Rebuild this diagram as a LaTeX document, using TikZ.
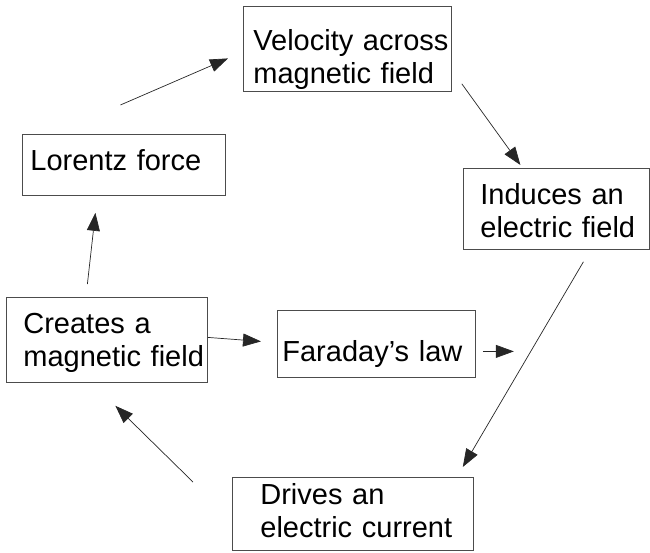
\documentclass[tikz,border=0pt]{standalone}
\usepackage{fontspec}
\setmainfont{Liberation Sans}
\usetikzlibrary{arrows.meta}
\hyphenpenalty=10000
\begin{document}
\begin{tikzpicture}[x=1pt,y=-1pt,
    font=\fontsize{29}{33}\selectfont,
    box/.style={draw=black!70, line width=0.8pt, text=black,
          anchor=north west, align=left, inner ysep=0pt},
    arr/.style={-{Triangle[length=18pt,width=13pt]},
          line width=0.7pt, black!85}]
    \useasboundingbox (0,0) rectangle (650,552);
    \node[box, text width=188pt, inner xsep=10pt,
          text height=44pt, text depth=41pt] (vel) at (243,6)
          {Velocity~across\\magnetic~field};
    \node[box, text width=187pt, inner xsep=8pt,
          text height=36pt, text depth=25pt] (lor) at (22,134)
          {Lorentz~force};
    \node[box, text width=152pt, inner xsep=17pt,
          text height=36pt, text depth=45pt] (ind) at (463,168)
          {Induces~an\\electric~field};
    \node[box, text width=167pt, inner xsep=17pt,
          text height=36pt, text depth=49pt] (cre) at (6,297)
          {Creates~a\\magnetic~field};
    \node[box, text width=188pt, inner xsep=5pt,
          text height=51pt, text depth=16pt] (far) at (277,310)
          {Faraday’s~law};
    \node[box, text width=185pt, inner xsep=28pt,
          text height=27pt, text depth=46pt] (drv) at (232,477)
          {Drives~an\\electric~current};
    \coordinate (out) at ([shift={(38,7.5)}]far.east);
    % the cycle
    \draw[arr] ([shift={(-3.5,-29)}]lor.north)
          -- ([shift={(-15,9.5)}]vel.west);
    \draw[arr] ([shift={(10,-8)}]vel.south east)
          -- ([shift={(-36,-3)}]ind.north);
    \draw[arr] ([shift={(27,12)}]ind.south)
          -- ([shift={(-11,-10)}]drv.north east);
    \draw[arr] ([shift={(-39,5)}]drv.north west)
          -- ([shift={(8.5,23)}]cre.south);
    \draw[arr] ([shift={(-19.5,-13)}]cre.north)
          -- ([shift={(-28.5,17)}]lor.south);
    \draw[arr] ([shift={(0,-2.5)}]cre.east)
          -- ([shift={(-16,-2.5)}]far.west);
    \draw[arr] ([shift={(7,7.5)}]far.east) -- (out);
\end{tikzpicture}
\end{document}
